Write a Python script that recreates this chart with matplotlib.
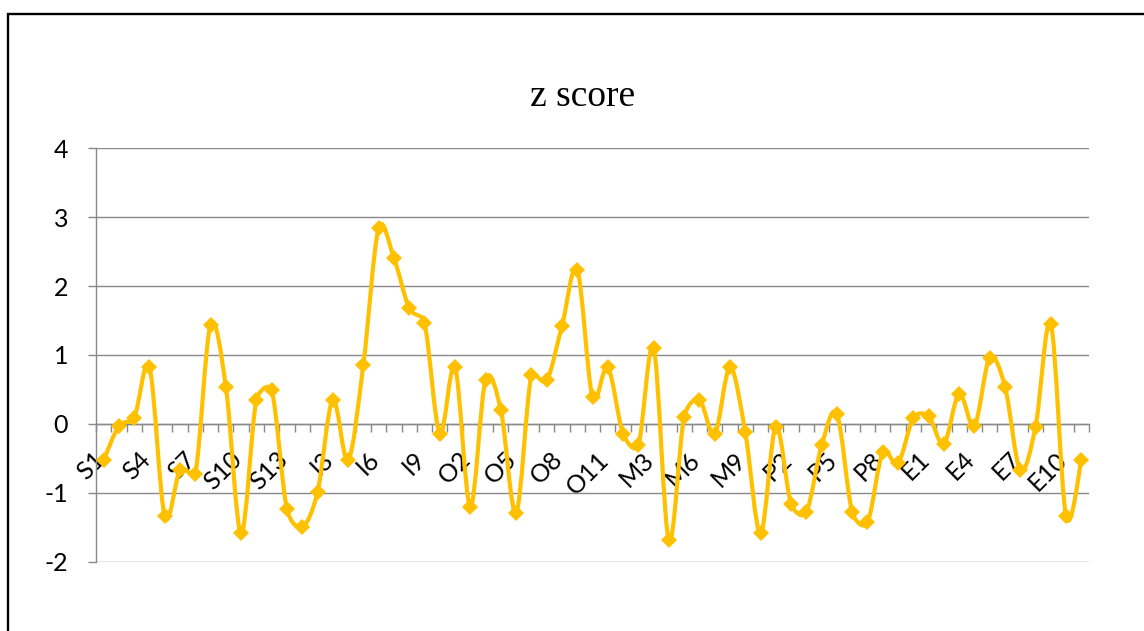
import matplotlib
matplotlib.use("Agg")
import matplotlib.pyplot as plt
import matplotlib.transforms as mtransforms
from matplotlib.path import Path
from matplotlib.patches import PathPatch, Rectangle
import numpy as np

# categories: S1-S13, I1-I10, O1-O11, M1-M10, P1-P10, E1-E11
groups = [("S", 13), ("I", 10), ("O", 11), ("M", 10), ("P", 10), ("E", 11)]
categories = [g + str(k) for g, n in groups for k in range(1, n + 1)]

zscore = [-0.53, -0.03, 0.09, 0.82, -1.34, -0.67, -0.72, 1.44, 0.54, -1.59,
          0.35, 0.49, -1.24,
          -1.50, -0.99, 0.35, -0.53, 0.86, 2.84, 2.41, 1.68, 1.47, -0.14,
          0.82, -1.20, 0.64, 0.20, -1.29, 0.71, 0.63, 1.42, 2.24, 0.39, 0.82,
          -0.14, -0.31, 1.10, -1.69, 0.10, 0.35, -0.15, 0.82, -0.12, -1.59,
          -0.04, -1.16, -1.28, -0.31, 0.14, -1.28, -1.43, -0.41, -0.57, 0.08,
          0.11, -0.29, 0.44, -0.03, 0.96, 0.54, -0.67, -0.04, 1.45, -1.34, -0.53]

yticks = [-2, -1, 0, 1, 2, 3, 4]

gold = "#FFC000"
grey = "#898989"
label_font = "Lato"

W, H = 1144, 631
fig = plt.figure(figsize=(W / 100, H / 100), dpi=100)
fig.patch.set_facecolor("white")

# chart border (runs past the right and bottom of the picture)
fig.patches.append(Rectangle((8 / W, -0.1), 1.2, (H - 14) / H + 0.1,
                             transform=fig.transFigure, fill=False,
                             edgecolor="black", linewidth=1.7))

ax = fig.add_axes([96 / W, (H - 561.7) / H, (1089 - 96) / W, (561.7 - 148.3) / H])
n = len(zscore)
xs = list(range(n))
ax.set_xlim(-0.5, n - 0.5)
ax.set_ylim(-2, 4)

# smoothed line like Excel: Bezier segments, tension 1/6 limited by segment length
pts = ax.transData.transform(np.column_stack([xs, zscore]))
def dist(a, b):
    return np.hypot(*(pts[a] - pts[b]))

verts = [(xs[0], zscore[0])]
codes = [Path.MOVETO]
for i in range(n - 1):
    i0, i1, i2, i3 = max(i - 1, 0), i, i + 1, min(i + 2, n - 1)
    d12 = dist(i1, i2)
    d02 = dist(i0, i2)
    d13 = dist(i1, i3)
    f = 1 / 6 if d02 == 0 else min(1 / 6, d12 / (2 * d02))
    g = 1 / 6 if d13 == 0 else min(1 / 6, d12 / (2 * d13))
    c1 = (xs[i1] + (xs[i2] - xs[i0]) * f, zscore[i1] + (zscore[i2] - zscore[i0]) * f)
    c2 = (xs[i2] - (xs[i3] - xs[i1]) * g, zscore[i2] - (zscore[i3] - zscore[i1]) * g)
    verts += [c1, c2, (xs[i2], zscore[i2])]
    codes += [Path.CURVE4] * 3
ax.add_patch(PathPatch(Path(verts, codes), facecolor="none", edgecolor=gold,
                       linewidth=3.0, capstyle="round", joinstyle="round", zorder=3))
ax.plot(xs, zscore, linestyle="none", marker="D", markersize=8.3,
        markerfacecolor=gold, markeredgewidth=0, zorder=4)

# y axis
ax.set_yticks(yticks)
ax.set_yticklabels([str(v) for v in yticks], fontsize=18, family=label_font)
ax.tick_params(axis="y", length=6, width=1, color=grey, pad=14)
for v in yticks:
    ax.axhline(v, color=grey, linewidth=1.0, zorder=1)

for s in ["top", "right"]:
    ax.spines[s].set_visible(False)
ax.spines["left"].set_color(grey)
ax.spines["left"].set_linewidth(1.0)
ax.spines["bottom"].set_position(("data", 0))
ax.spines["bottom"].set_color(grey)
ax.spines["bottom"].set_linewidth(1.0)

# x axis at zero: tick marks between categories, every third label
ax.set_xticks(xs[::3])
ax.set_xticklabels(categories[::3], rotation=45, ha="right", va="top",
                   fontsize=18, family=label_font)
ax.set_xticks([i - 0.5 for i in range(n + 1)], minor=True)
ax.tick_params(axis="x", which="major", length=0, pad=17)
ax.tick_params(axis="x", which="minor", length=6, width=1, color=grey)
offset = mtransforms.ScaledTranslation(5 / 100, 0, fig.dpi_scale_trans)
for lab in ax.get_xticklabels():
    lab.set_transform(lab.get_transform() + offset)

fig.text(583 / W, 1 - 97 / H, "z score", ha="center", va="center",
         fontsize=27, family="Liberation Serif")

fig.savefig("out.png", dpi=100)
